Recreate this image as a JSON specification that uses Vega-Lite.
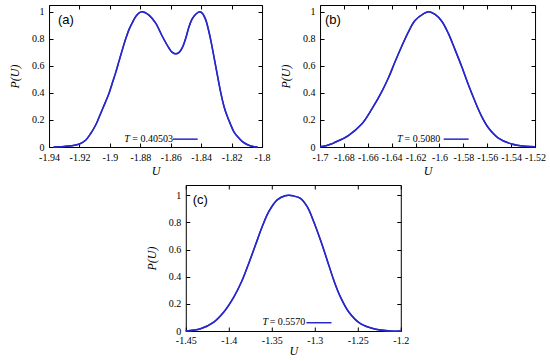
{
  "$schema": "https://vega.github.io/schema/vega-lite/v6.json",
  "padding": {"left": 8, "top": 4, "right": 5, "bottom": 5},
  "background": "white",
  "config": {
    "locale": {"number": {"decimal": ".", "thousands": ",", "grouping": [3], "currency": ["$", ""], "minus": "-"}},
    "view": {"stroke": "black", "strokeWidth": 1},
    "axis": {"domain": false, "grid": false, "tickColor": "black", "tickSize": -4, "tickWidth": 1, "labelFont": "Liberation Serif", "labelFontSize": 10, "labelColor": "black", "labelOverlap": false, "labelFlush": false, "titleFont": "Liberation Serif", "titleFontSize": 12, "titleFontStyle": "italic", "titleFontWeight": "normal", "titleColor": "black"},
    "axisX": {"labelPadding": 9, "titlePadding": 3},
    "axisY": {"labelPadding": 9, "titlePadding": 10},
    "title": {"font": "Liberation Sans", "fontSize": 13, "fontWeight": "normal", "color": "black", "anchor": "start", "frame": "group", "offset": -22},
    "text": {"font": "Liberation Serif", "fontSize": 10, "color": "black", "align": "left", "baseline": "middle"}
  },
  "datasets": {
    "a": [
      {"U": -1.937, "P": 0, "T": "0.40503"},
      {"U": -1.9334, "P": 0.001, "T": "0.40503"},
      {"U": -1.93, "P": 0.004, "T": "0.40503"},
      {"U": -1.925, "P": 0.01, "T": "0.40503"},
      {"U": -1.92, "P": 0.022, "T": "0.40503"},
      {"U": -1.916, "P": 0.05, "T": "0.40503"},
      {"U": -1.9126, "P": 0.1, "T": "0.40503"},
      {"U": -1.909, "P": 0.17, "T": "0.40503"},
      {"U": -1.906, "P": 0.25, "T": "0.40503"},
      {"U": -1.903, "P": 0.33, "T": "0.40503"},
      {"U": -1.9005, "P": 0.4, "T": "0.40503"},
      {"U": -1.8985, "P": 0.47, "T": "0.40503"},
      {"U": -1.8962, "P": 0.55, "T": "0.40503"},
      {"U": -1.894, "P": 0.635, "T": "0.40503"},
      {"U": -1.8918, "P": 0.72, "T": "0.40503"},
      {"U": -1.8896, "P": 0.8, "T": "0.40503"},
      {"U": -1.8874, "P": 0.87, "T": "0.40503"},
      {"U": -1.885, "P": 0.925, "T": "0.40503"},
      {"U": -1.883, "P": 0.965, "T": "0.40503"},
      {"U": -1.881, "P": 0.99, "T": "0.40503"},
      {"U": -1.879, "P": 1.0, "T": "0.40503"},
      {"U": -1.877, "P": 0.995, "T": "0.40503"},
      {"U": -1.8743, "P": 0.975, "T": "0.40503"},
      {"U": -1.8699, "P": 0.916, "T": "0.40503"},
      {"U": -1.8655, "P": 0.817, "T": "0.40503"},
      {"U": -1.8611, "P": 0.73, "T": "0.40503"},
      {"U": -1.859, "P": 0.7, "T": "0.40503"},
      {"U": -1.8567, "P": 0.689, "T": "0.40503"},
      {"U": -1.8545, "P": 0.7, "T": "0.40503"},
      {"U": -1.8524, "P": 0.735, "T": "0.40503"},
      {"U": -1.85, "P": 0.81, "T": "0.40503"},
      {"U": -1.848, "P": 0.89, "T": "0.40503"},
      {"U": -1.846, "P": 0.945, "T": "0.40503"},
      {"U": -1.8436, "P": 0.982, "T": "0.40503"},
      {"U": -1.8409, "P": 1.0, "T": "0.40503"},
      {"U": -1.839, "P": 0.985, "T": "0.40503"},
      {"U": -1.837, "P": 0.94, "T": "0.40503"},
      {"U": -1.8355, "P": 0.88, "T": "0.40503"},
      {"U": -1.8337, "P": 0.79, "T": "0.40503"},
      {"U": -1.832, "P": 0.69, "T": "0.40503"},
      {"U": -1.8304, "P": 0.595, "T": "0.40503"},
      {"U": -1.8271, "P": 0.4, "T": "0.40503"},
      {"U": -1.825, "P": 0.3, "T": "0.40503"},
      {"U": -1.8228, "P": 0.225, "T": "0.40503"},
      {"U": -1.8206, "P": 0.165, "T": "0.40503"},
      {"U": -1.8184, "P": 0.11, "T": "0.40503"},
      {"U": -1.8155, "P": 0.07, "T": "0.40503"},
      {"U": -1.8129, "P": 0.04, "T": "0.40503"},
      {"U": -1.8095, "P": 0.017, "T": "0.40503"},
      {"U": -1.8059, "P": 0.004, "T": "0.40503"},
      {"U": -1.803, "P": 0.0, "T": "0.40503"}
    ],
    "b": [
      {"U": -1.7, "P": 0.002, "T": "0.5080"},
      {"U": -1.695, "P": 0.01, "T": "0.5080"},
      {"U": -1.69, "P": 0.024, "T": "0.5080"},
      {"U": -1.6874, "P": 0.035, "T": "0.5080"},
      {"U": -1.6763, "P": 0.085, "T": "0.5080"},
      {"U": -1.6651, "P": 0.17, "T": "0.5080"},
      {"U": -1.6567, "P": 0.28, "T": "0.5080"},
      {"U": -1.6483, "P": 0.41, "T": "0.5080"},
      {"U": -1.6428, "P": 0.51, "T": "0.5080"},
      {"U": -1.6372, "P": 0.63, "T": "0.5080"},
      {"U": -1.6316, "P": 0.745, "T": "0.5080"},
      {"U": -1.6261, "P": 0.85, "T": "0.5080"},
      {"U": -1.6205, "P": 0.935, "T": "0.5080"},
      {"U": -1.6135, "P": 0.985, "T": "0.5080"},
      {"U": -1.609, "P": 1.0, "T": "0.5080"},
      {"U": -1.6037, "P": 0.98, "T": "0.5080"},
      {"U": -1.5981, "P": 0.93, "T": "0.5080"},
      {"U": -1.5926, "P": 0.84, "T": "0.5080"},
      {"U": -1.587, "P": 0.72, "T": "0.5080"},
      {"U": -1.5814, "P": 0.595, "T": "0.5080"},
      {"U": -1.5758, "P": 0.46, "T": "0.5080"},
      {"U": -1.5702, "P": 0.336, "T": "0.5080"},
      {"U": -1.5646, "P": 0.225, "T": "0.5080"},
      {"U": -1.5591, "P": 0.142, "T": "0.5080"},
      {"U": -1.5507, "P": 0.066, "T": "0.5080"},
      {"U": -1.5395, "P": 0.022, "T": "0.5080"},
      {"U": -1.5284, "P": 0.005, "T": "0.5080"},
      {"U": -1.52, "P": 0.001, "T": "0.5080"}
    ],
    "c": [
      {"U": -1.45, "P": 0.0, "T": "0.5570"},
      {"U": -1.4329, "P": 0.017, "T": "0.5570"},
      {"U": -1.4174, "P": 0.066, "T": "0.5570"},
      {"U": -1.4058, "P": 0.14, "T": "0.5570"},
      {"U": -1.3942, "P": 0.25, "T": "0.5570"},
      {"U": -1.3844, "P": 0.374, "T": "0.5570"},
      {"U": -1.3767, "P": 0.5, "T": "0.5570"},
      {"U": -1.369, "P": 0.633, "T": "0.5570"},
      {"U": -1.3612, "P": 0.768, "T": "0.5570"},
      {"U": -1.3535, "P": 0.879, "T": "0.5570"},
      {"U": -1.3437, "P": 0.966, "T": "0.5570"},
      {"U": -1.3345, "P": 0.997, "T": "0.5570"},
      {"U": -1.33, "P": 1.0, "T": "0.5570"},
      {"U": -1.3255, "P": 0.996, "T": "0.5570"},
      {"U": -1.3167, "P": 0.978, "T": "0.5570"},
      {"U": -1.3088, "P": 0.916, "T": "0.5570"},
      {"U": -1.3012, "P": 0.805, "T": "0.5570"},
      {"U": -1.2934, "P": 0.67, "T": "0.5570"},
      {"U": -1.2856, "P": 0.522, "T": "0.5570"},
      {"U": -1.2779, "P": 0.374, "T": "0.5570"},
      {"U": -1.2702, "P": 0.251, "T": "0.5570"},
      {"U": -1.2605, "P": 0.14, "T": "0.5570"},
      {"U": -1.2469, "P": 0.054, "T": "0.5570"},
      {"U": -1.2314, "P": 0.017, "T": "0.5570"},
      {"U": -1.212, "P": 0.0, "T": "0.5570"},
      {"U": -1.2, "P": 0.0, "T": "0.5570"}
    ]
  },
  "vconcat": [
    {
      "hconcat": [
        {
          "width": 213, "height": 142,
          "title": {"text": "(a)", "dx": 9},
          "data": {"name": "a"},
          "layer": [
            {
              "mark": {"type": "line", "interpolate": "catmull-rom", "strokeWidth": 1.5, "color": "#2828c8"},
              "encoding": {
                "x": {"field": "U", "type": "quantitative", "scale": {"domain": [-1.94, -1.8], "nice": false, "zero": false}, "axis": {"orient": "bottom", "title": "U", "values": [-1.94, -1.92, -1.9, -1.88, -1.86, -1.84, -1.82, -1.8], "format": "~g"}},
                "y": {"field": "P", "type": "quantitative", "scale": {"domain": [0, 1.05], "nice": false}, "axis": {"orient": "left", "title": "P(U)", "values": [0, 0.2, 0.4, 0.6, 0.8, 1], "format": "~g"}}
              }
            },
            {
              "mark": {"type": "line", "interpolate": "catmull-rom", "strokeWidth": 1.5, "color": "#2828c8"},
              "encoding": {
                "x": {"field": "U", "type": "quantitative", "axis": {"orient": "top", "title": null, "labels": false, "values": [-1.94, -1.92, -1.9, -1.88, -1.86, -1.84, -1.82, -1.8]}},
                "y": {"field": "P", "type": "quantitative", "axis": {"orient": "right", "title": null, "labels": false, "values": [0, 0.2, 0.4, 0.6, 0.8, 1]}}
              }
            },
            {
              "transform": [{"aggregate": [{"op": "count", "as": "n"}], "groupby": ["T"]}],
              "mark": {"type": "text", "text": "T", "fontStyle": "italic"},
              "encoding": {"x": {"datum": -1.8905, "axis": null}, "y": {"datum": 0.061, "axis": null}}
            },
            {
              "transform": [{"aggregate": [{"op": "count", "as": "n"}], "groupby": ["T"]}, {"calculate": "'= ' + datum.T", "as": "label"}],
              "mark": {"type": "text"},
              "encoding": {"x": {"datum": -1.8853, "axis": null}, "y": {"datum": 0.061, "axis": null}, "text": {"field": "label"}}
            },
            {
              "transform": [{"aggregate": [{"op": "count", "as": "n"}], "groupby": ["T"]}],
              "mark": {"type": "rule", "strokeWidth": 1.5, "color": "#2828c8"},
              "encoding": {"x": {"datum": -1.8587, "axis": null}, "x2": {"datum": -1.8423}, "y": {"datum": 0.058, "axis": null}}
            }
          ],
          "resolve": {"axis": {"x": "independent", "y": "independent"}}
        },
        {
          "width": 215, "height": 142,
          "title": {"text": "(b)", "dx": 5},
          "data": {"name": "b"},
          "layer": [
            {
              "mark": {"type": "line", "interpolate": "catmull-rom", "strokeWidth": 1.5, "color": "#2828c8"},
              "encoding": {
                "x": {"field": "U", "type": "quantitative", "scale": {"domain": [-1.7, -1.52], "nice": false, "zero": false}, "axis": {"orient": "bottom", "title": "U", "values": [-1.7, -1.68, -1.66, -1.64, -1.62, -1.6, -1.58, -1.56, -1.54, -1.52], "format": "~g"}},
                "y": {"field": "P", "type": "quantitative", "scale": {"domain": [0, 1.05], "nice": false}, "axis": {"orient": "left", "title": "P(U)", "values": [0, 0.2, 0.4, 0.6, 0.8, 1], "format": "~g"}}
              }
            },
            {
              "mark": {"type": "line", "interpolate": "catmull-rom", "strokeWidth": 1.5, "color": "#2828c8"},
              "encoding": {
                "x": {"field": "U", "type": "quantitative", "axis": {"orient": "top", "title": null, "labels": false, "values": [-1.7, -1.68, -1.66, -1.64, -1.62, -1.6, -1.58, -1.56, -1.54, -1.52]}},
                "y": {"field": "P", "type": "quantitative", "axis": {"orient": "right", "title": null, "labels": false, "values": [0, 0.2, 0.4, 0.6, 0.8, 1]}}
              }
            },
            {
              "transform": [{"aggregate": [{"op": "count", "as": "n"}], "groupby": ["T"]}],
              "mark": {"type": "text", "text": "T", "fontStyle": "italic"},
              "encoding": {"x": {"datum": -1.6355, "axis": null}, "y": {"datum": 0.061, "axis": null}}
            },
            {
              "transform": [{"aggregate": [{"op": "count", "as": "n"}], "groupby": ["T"]}, {"calculate": "'= ' + datum.T", "as": "label"}],
              "mark": {"type": "text"},
              "encoding": {"x": {"datum": -1.6292, "axis": null}, "y": {"datum": 0.061, "axis": null}, "text": {"field": "label"}}
            },
            {
              "transform": [{"aggregate": [{"op": "count", "as": "n"}], "groupby": ["T"]}],
              "mark": {"type": "rule", "strokeWidth": 1.5, "color": "#2828c8"},
              "encoding": {"x": {"datum": -1.5965, "axis": null}, "x2": {"datum": -1.5756}, "y": {"datum": 0.058, "axis": null}}
            }
          ],
          "resolve": {"axis": {"x": "independent", "y": "independent"}}
        }
      ],
      "spacing": 8
    },
    {
      "width": 215, "height": 146,
      "title": {"text": "(c)", "dx": 7},
      "data": {"name": "c"},
      "layer": [
        {
          "mark": {"type": "line", "interpolate": "catmull-rom", "strokeWidth": 1.5, "color": "#2828c8"},
          "encoding": {
            "x": {"field": "U", "type": "quantitative", "scale": {"domain": [-1.45, -1.2], "nice": false, "zero": false}, "axis": {"orient": "bottom", "title": "U", "values": [-1.45, -1.4, -1.35, -1.3, -1.25, -1.2], "format": "~g", "labelPadding": 8, "titlePadding": 0}},
            "y": {"field": "P", "type": "quantitative", "scale": {"domain": [0, 1.076], "nice": false}, "axis": {"orient": "left", "title": "P(U)", "values": [0, 0.2, 0.4, 0.6, 0.8, 1], "format": "~g"}}
          }
        },
        {
          "mark": {"type": "line", "interpolate": "catmull-rom", "strokeWidth": 1.5, "color": "#2828c8"},
          "encoding": {
            "x": {"field": "U", "type": "quantitative", "axis": {"orient": "top", "title": null, "labels": false, "values": [-1.45, -1.4, -1.35, -1.3, -1.25, -1.2]}},
            "y": {"field": "P", "type": "quantitative", "axis": {"orient": "right", "title": null, "labels": false, "values": [0, 0.2, 0.4, 0.6, 0.8, 1]}}
          }
        },
        {
          "transform": [{"aggregate": [{"op": "count", "as": "n"}], "groupby": ["T"]}],
          "mark": {"type": "text", "text": "T", "fontStyle": "italic"},
          "encoding": {"x": {"datum": -1.3608, "axis": null}, "y": {"datum": 0.064, "axis": null}}
        },
        {
          "transform": [{"aggregate": [{"op": "count", "as": "n"}], "groupby": ["T"]}, {"calculate": "'= ' + datum.T", "as": "label"}],
          "mark": {"type": "text"},
          "encoding": {"x": {"datum": -1.3525, "axis": null}, "y": {"datum": 0.064, "axis": null}, "text": {"field": "label"}}
        },
        {
          "transform": [{"aggregate": [{"op": "count", "as": "n"}], "groupby": ["T"]}],
          "mark": {"type": "rule", "strokeWidth": 1.5, "color": "#2828c8"},
          "encoding": {"x": {"datum": -1.3097, "axis": null}, "x2": {"datum": -1.2806}, "y": {"datum": 0.061, "axis": null}}
        }
      ],
      "resolve": {"axis": {"x": "independent", "y": "independent"}}
    }
  ],
  "center": true,
  "spacing": 7
}
